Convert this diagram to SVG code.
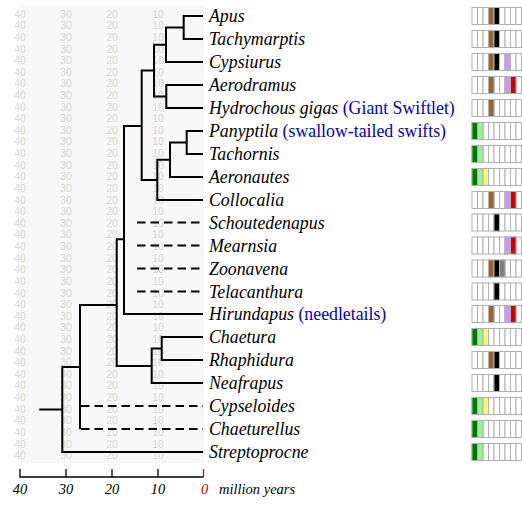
<svg xmlns="http://www.w3.org/2000/svg" xmlns:xlink="http://www.w3.org/1999/xlink" width="522" height="506" viewBox="0 0 522 506">
<style>
.grid{font-family:"Liberation Sans",Arial,sans-serif;font-size:10.5px;fill:#d6d6d6;text-anchor:middle}
.tx{font-family:"Liberation Serif","Times New Roman",serif;font-size:17.8px;font-style:italic;fill:#000}
.cm{font-style:normal;fill:#0000cc}
.ax{font-family:"Liberation Serif","Times New Roman",serif;font-size:14.5px;font-style:italic;fill:#000}
.br{fill:none;stroke:#000;stroke-width:2}
.ds{fill:none;stroke:#000;stroke-width:2;stroke-dasharray:8.5,5}
.cl rect{stroke:#b0b0b0;stroke-width:1}
.w{fill:#fff}.G{fill:#007a00}.L{fill:#98f098}.Y{fill:#f8f870}.B{fill:#9a6332}.K{fill:#000}.R{fill:#808080}.P{fill:#c898f8}.D{fill:#d00000}
</style>
<defs>
<g id="box" class="cl">
<rect class="w" x="0" y="0" width="5.5" height="17"/><rect class="w" x="5.5" y="0" width="5.5" height="17"/><rect class="w" x="11" y="0" width="5.5" height="17"/><rect class="w" x="16.5" y="0" width="5.5" height="17"/><rect class="w" x="22" y="0" width="5.5" height="17"/><rect class="w" x="27.5" y="0" width="5.5" height="17"/><rect class="w" x="33" y="0" width="5.5" height="17"/><rect class="w" x="38.5" y="0" width="5.5" height="17"/><rect class="w" x="44" y="0" width="5.5" height="17"/>
</g>
</defs>
<rect x="0" y="0" width="522" height="506" fill="#fff"/>
<g id="panel">
<rect x="20" y="5" width="183" height="458" fill="#f8f8f8"/>
<line x1="203" y1="5" x2="203" y2="463" stroke="#fdf0dc" stroke-width="1"/>
<g class="grid">
<text y="17.6"><tspan x="20">40</tspan><tspan x="66">30</tspan><tspan x="112">20</tspan><tspan x="158">10</tspan></text>
<text y="29.2"><tspan x="20">40</tspan><tspan x="66">30</tspan><tspan x="112">20</tspan><tspan x="158">10</tspan></text>
<text y="40.8"><tspan x="20">40</tspan><tspan x="66">30</tspan><tspan x="112">20</tspan><tspan x="158">10</tspan></text>
<text y="52.5"><tspan x="20">40</tspan><tspan x="66">30</tspan><tspan x="112">20</tspan><tspan x="158">10</tspan></text>
<text y="64.1"><tspan x="20">40</tspan><tspan x="66">30</tspan><tspan x="112">20</tspan><tspan x="158">10</tspan></text>
<text y="75.7"><tspan x="20">40</tspan><tspan x="66">30</tspan><tspan x="112">20</tspan><tspan x="158">10</tspan></text>
<text y="87.3"><tspan x="20">40</tspan><tspan x="66">30</tspan><tspan x="112">20</tspan><tspan x="158">10</tspan></text>
<text y="98.9"><tspan x="20">40</tspan><tspan x="66">30</tspan><tspan x="112">20</tspan><tspan x="158">10</tspan></text>
<text y="110.6"><tspan x="20">40</tspan><tspan x="66">30</tspan><tspan x="112">20</tspan><tspan x="158">10</tspan></text>
<text y="122.2"><tspan x="20">40</tspan><tspan x="66">30</tspan><tspan x="112">20</tspan><tspan x="158">10</tspan></text>
<text y="133.8"><tspan x="20">40</tspan><tspan x="66">30</tspan><tspan x="112">20</tspan><tspan x="158">10</tspan></text>
<text y="145.4"><tspan x="20">40</tspan><tspan x="66">30</tspan><tspan x="112">20</tspan><tspan x="158">10</tspan></text>
<text y="157.0"><tspan x="20">40</tspan><tspan x="66">30</tspan><tspan x="112">20</tspan><tspan x="158">10</tspan></text>
<text y="168.7"><tspan x="20">40</tspan><tspan x="66">30</tspan><tspan x="112">20</tspan><tspan x="158">10</tspan></text>
<text y="180.3"><tspan x="20">40</tspan><tspan x="66">30</tspan><tspan x="112">20</tspan><tspan x="158">10</tspan></text>
<text y="191.9"><tspan x="20">40</tspan><tspan x="66">30</tspan><tspan x="112">20</tspan><tspan x="158">10</tspan></text>
<text y="203.5"><tspan x="20">40</tspan><tspan x="66">30</tspan><tspan x="112">20</tspan><tspan x="158">10</tspan></text>
<text y="215.1"><tspan x="20">40</tspan><tspan x="66">30</tspan><tspan x="112">20</tspan><tspan x="158">10</tspan></text>
<text y="226.8"><tspan x="20">40</tspan><tspan x="66">30</tspan><tspan x="112">20</tspan><tspan x="158">10</tspan></text>
<text y="238.4"><tspan x="20">40</tspan><tspan x="66">30</tspan><tspan x="112">20</tspan><tspan x="158">10</tspan></text>
<text y="250.0"><tspan x="20">40</tspan><tspan x="66">30</tspan><tspan x="112">20</tspan><tspan x="158">10</tspan></text>
<text y="261.6"><tspan x="20">40</tspan><tspan x="66">30</tspan><tspan x="112">20</tspan><tspan x="158">10</tspan></text>
<text y="273.2"><tspan x="20">40</tspan><tspan x="66">30</tspan><tspan x="112">20</tspan><tspan x="158">10</tspan></text>
<text y="284.9"><tspan x="20">40</tspan><tspan x="66">30</tspan><tspan x="112">20</tspan><tspan x="158">10</tspan></text>
<text y="296.5"><tspan x="20">40</tspan><tspan x="66">30</tspan><tspan x="112">20</tspan><tspan x="158">10</tspan></text>
<text y="308.1"><tspan x="20">40</tspan><tspan x="66">30</tspan><tspan x="112">20</tspan><tspan x="158">10</tspan></text>
<text y="319.7"><tspan x="20">40</tspan><tspan x="66">30</tspan><tspan x="112">20</tspan><tspan x="158">10</tspan></text>
<text y="331.3"><tspan x="20">40</tspan><tspan x="66">30</tspan><tspan x="112">20</tspan><tspan x="158">10</tspan></text>
<text y="343.0"><tspan x="20">40</tspan><tspan x="66">30</tspan><tspan x="112">20</tspan><tspan x="158">10</tspan></text>
<text y="354.6"><tspan x="20">40</tspan><tspan x="66">30</tspan><tspan x="112">20</tspan><tspan x="158">10</tspan></text>
<text y="366.2"><tspan x="20">40</tspan><tspan x="66">30</tspan><tspan x="112">20</tspan><tspan x="158">10</tspan></text>
<text y="377.8"><tspan x="20">40</tspan><tspan x="66">30</tspan><tspan x="112">20</tspan><tspan x="158">10</tspan></text>
<text y="389.4"><tspan x="20">40</tspan><tspan x="66">30</tspan><tspan x="112">20</tspan><tspan x="158">10</tspan></text>
<text y="401.1"><tspan x="20">40</tspan><tspan x="66">30</tspan><tspan x="112">20</tspan><tspan x="158">10</tspan></text>
<text y="412.7"><tspan x="20">40</tspan><tspan x="66">30</tspan><tspan x="112">20</tspan><tspan x="158">10</tspan></text>
<text y="424.3"><tspan x="20">40</tspan><tspan x="66">30</tspan><tspan x="112">20</tspan><tspan x="158">10</tspan></text>
<text y="435.9"><tspan x="20">40</tspan><tspan x="66">30</tspan><tspan x="112">20</tspan><tspan x="158">10</tspan></text>
<text y="447.5"><tspan x="20">40</tspan><tspan x="66">30</tspan><tspan x="112">20</tspan><tspan x="158">10</tspan></text>
<text y="459.2"><tspan x="20">40</tspan><tspan x="66">30</tspan><tspan x="112">20</tspan><tspan x="158">10</tspan></text>
</g>
</g>
<g id="connectors">
<path class="br" d="M203,16H183.7V39H203"/>
<path class="br" d="M183.7,27.5H166V62H203"/>
<path class="br" d="M203,85H166.3V108H203"/>
<path class="br" d="M166,44.75H154V96.5H166.3"/>
<path class="br" d="M203,131H186.7V154H203"/>
<path class="br" d="M186.7,142.5H170V177H203"/>
<path class="br" d="M170,159.75H157.3V200H203"/>
<path class="br" d="M154,70.6H141.7V179.9H157.3"/>
<path class="br" d="M141.7,126H124V314H203"/>
<path class="br" d="M203,337H161.7V360H203"/>
<path class="br" d="M161.7,348.5H151.7V383H203"/>
<path class="br" d="M124,239.3H116.7V366H151.7"/>
<path class="br" d="M116.7,305H80V429"/>
<path class="br" d="M80,367H62.3V452H203"/>
<path class="br" d="M39.3,409.5H62.3"/>
<path class="ds" d="M137,222.5H203M137,245.5H203M137,268.5H203M137,291.5H203M81,406H203M81,429H203"/>
</g>
<g id="axis">
<path d="M20,469V477H203.5M66,469V477M112,469V477M158,469V477" fill="none" stroke="#000" stroke-width="1.3"/>
<path d="M203.5,469V477" fill="none" stroke="#d00000" stroke-width="1.3"/>
<g class="ax" text-anchor="middle">
<text x="20" y="494">40</text><text x="66" y="494">30</text><text x="112" y="494">20</text><text x="158" y="494">10</text><text x="204.5" y="494" fill="#d00000">0</text>
</g>
<text class="ax" x="219" y="494">million years</text>
</g>
<g id="t-apus"><text class="tx" x="209" y="22">Apus</text><g transform="translate(472,7.5)"><use xlink:href="#box"/><g class="cl"><rect class="B" x="16.5" width="5.5" height="17"/><rect class="K" x="22" width="5.5" height="17"/></g></g></g>
<g id="t-tachymarptis"><text class="tx" x="209" y="45">Tachymarptis</text><g transform="translate(472,30.5)"><use xlink:href="#box"/><g class="cl"><rect class="B" x="16.5" width="5.5" height="17"/><rect class="K" x="22" width="5.5" height="17"/></g></g></g>
<g id="t-cypsiurus"><text class="tx" x="209" y="68">Cypsiurus</text><g transform="translate(472,53.5)"><use xlink:href="#box"/><g class="cl"><rect class="B" x="16.5" width="5.5" height="17"/><rect class="K" x="22" width="5.5" height="17"/><rect class="P" x="33" width="5.5" height="17"/></g></g></g>
<g id="t-aerodramus"><text class="tx" x="209" y="91">Aerodramus</text><g transform="translate(472,76.5)"><use xlink:href="#box"/><g class="cl"><rect class="B" x="16.5" width="5.5" height="17"/><rect class="P" x="33" width="5.5" height="17"/><rect class="D" x="38.5" width="5.5" height="17"/></g></g></g>
<g id="t-hydrochous"><text class="tx" x="209" y="114">Hydrochous gigas <tspan class="cm">(Giant Swiftlet)</tspan></text><g transform="translate(472,99.5)"><use xlink:href="#box"/><g class="cl"><rect class="B" x="16.5" width="5.5" height="17"/></g></g></g>
<g id="t-panyptila"><text class="tx" x="209" y="137">Panyptila <tspan class="cm">(swallow-tailed swifts)</tspan></text><g transform="translate(472,122.5)"><use xlink:href="#box"/><g class="cl"><rect class="G" x="0" width="5.5" height="17"/><rect class="L" x="5.5" width="5.5" height="17"/></g></g></g>
<g id="t-tachornis"><text class="tx" x="209" y="160">Tachornis</text><g transform="translate(472,145.5)"><use xlink:href="#box"/><g class="cl"><rect class="G" x="0" width="5.5" height="17"/><rect class="L" x="5.5" width="5.5" height="17"/></g></g></g>
<g id="t-aeronautes"><text class="tx" x="209" y="183">Aeronautes</text><g transform="translate(472,168.5)"><use xlink:href="#box"/><g class="cl"><rect class="G" x="0" width="5.5" height="17"/><rect class="L" x="5.5" width="5.5" height="17"/><rect class="Y" x="11" width="5.5" height="17"/></g></g></g>
<g id="t-collocalia"><text class="tx" x="209" y="206">Collocalia</text><g transform="translate(472,191.5)"><use xlink:href="#box"/><g class="cl"><rect class="B" x="16.5" width="5.5" height="17"/><rect class="P" x="33" width="5.5" height="17"/><rect class="D" x="38.5" width="5.5" height="17"/></g></g></g>
<g id="t-schoutedenapus"><text class="tx" x="209" y="228.5">Schoutedenapus</text><g transform="translate(472,214)"><use xlink:href="#box"/><g class="cl"><rect class="K" x="22" width="5.5" height="17"/></g></g></g>
<g id="t-mearnsia"><text class="tx" x="209" y="251.5">Mearnsia</text><g transform="translate(472,237)"><use xlink:href="#box"/><g class="cl"><rect class="P" x="33" width="5.5" height="17"/><rect class="D" x="38.5" width="5.5" height="17"/></g></g></g>
<g id="t-zoonavena"><text class="tx" x="209" y="274.5">Zoonavena</text><g transform="translate(472,260)"><use xlink:href="#box"/><g class="cl"><rect class="B" x="16.5" width="5.5" height="17"/><rect class="K" x="22" width="5.5" height="17"/><rect class="R" x="27.5" width="5.5" height="17"/></g></g></g>
<g id="t-telacanthura"><text class="tx" x="209" y="297.5">Telacanthura</text><g transform="translate(472,283)"><use xlink:href="#box"/><g class="cl"><rect class="K" x="22" width="5.5" height="17"/></g></g></g>
<g id="t-hirundapus"><text class="tx" x="209" y="320">Hirundapus <tspan class="cm">(needletails)</tspan></text><g transform="translate(472,305.5)"><use xlink:href="#box"/><g class="cl"><rect class="B" x="16.5" width="5.5" height="17"/><rect class="P" x="33" width="5.5" height="17"/><rect class="D" x="38.5" width="5.5" height="17"/></g></g></g>
<g id="t-chaetura"><text class="tx" x="209" y="343">Chaetura</text><g transform="translate(472,328.5)"><use xlink:href="#box"/><g class="cl"><rect class="G" x="0" width="5.5" height="17"/><rect class="L" x="5.5" width="5.5" height="17"/><rect class="Y" x="11" width="5.5" height="17"/></g></g></g>
<g id="t-rhaphidura"><text class="tx" x="209" y="366">Rhaphidura</text><g transform="translate(472,351.5)"><use xlink:href="#box"/><g class="cl"><rect class="B" x="16.5" width="5.5" height="17"/><rect class="K" x="22" width="5.5" height="17"/></g></g></g>
<g id="t-neafrapus"><text class="tx" x="209" y="389">Neafrapus</text><g transform="translate(472,374.5)"><use xlink:href="#box"/><g class="cl"><rect class="K" x="22" width="5.5" height="17"/></g></g></g>
<g id="t-cypseloides"><text class="tx" x="209" y="412">Cypseloides</text><g transform="translate(472,397.5)"><use xlink:href="#box"/><g class="cl"><rect class="G" x="0" width="5.5" height="17"/><rect class="L" x="5.5" width="5.5" height="17"/><rect class="Y" x="11" width="5.5" height="17"/></g></g></g>
<g id="t-chaeturellus"><text class="tx" x="209" y="435">Chaeturellus</text><g transform="translate(472,420.5)"><use xlink:href="#box"/><g class="cl"><rect class="G" x="0" width="5.5" height="17"/><rect class="L" x="5.5" width="5.5" height="17"/></g></g></g>
<g id="t-streptoprocne"><text class="tx" x="209" y="458">Streptoprocne</text><g transform="translate(472,443.5)"><use xlink:href="#box"/><g class="cl"><rect class="G" x="0" width="5.5" height="17"/><rect class="L" x="5.5" width="5.5" height="17"/></g></g></g>
</svg>
